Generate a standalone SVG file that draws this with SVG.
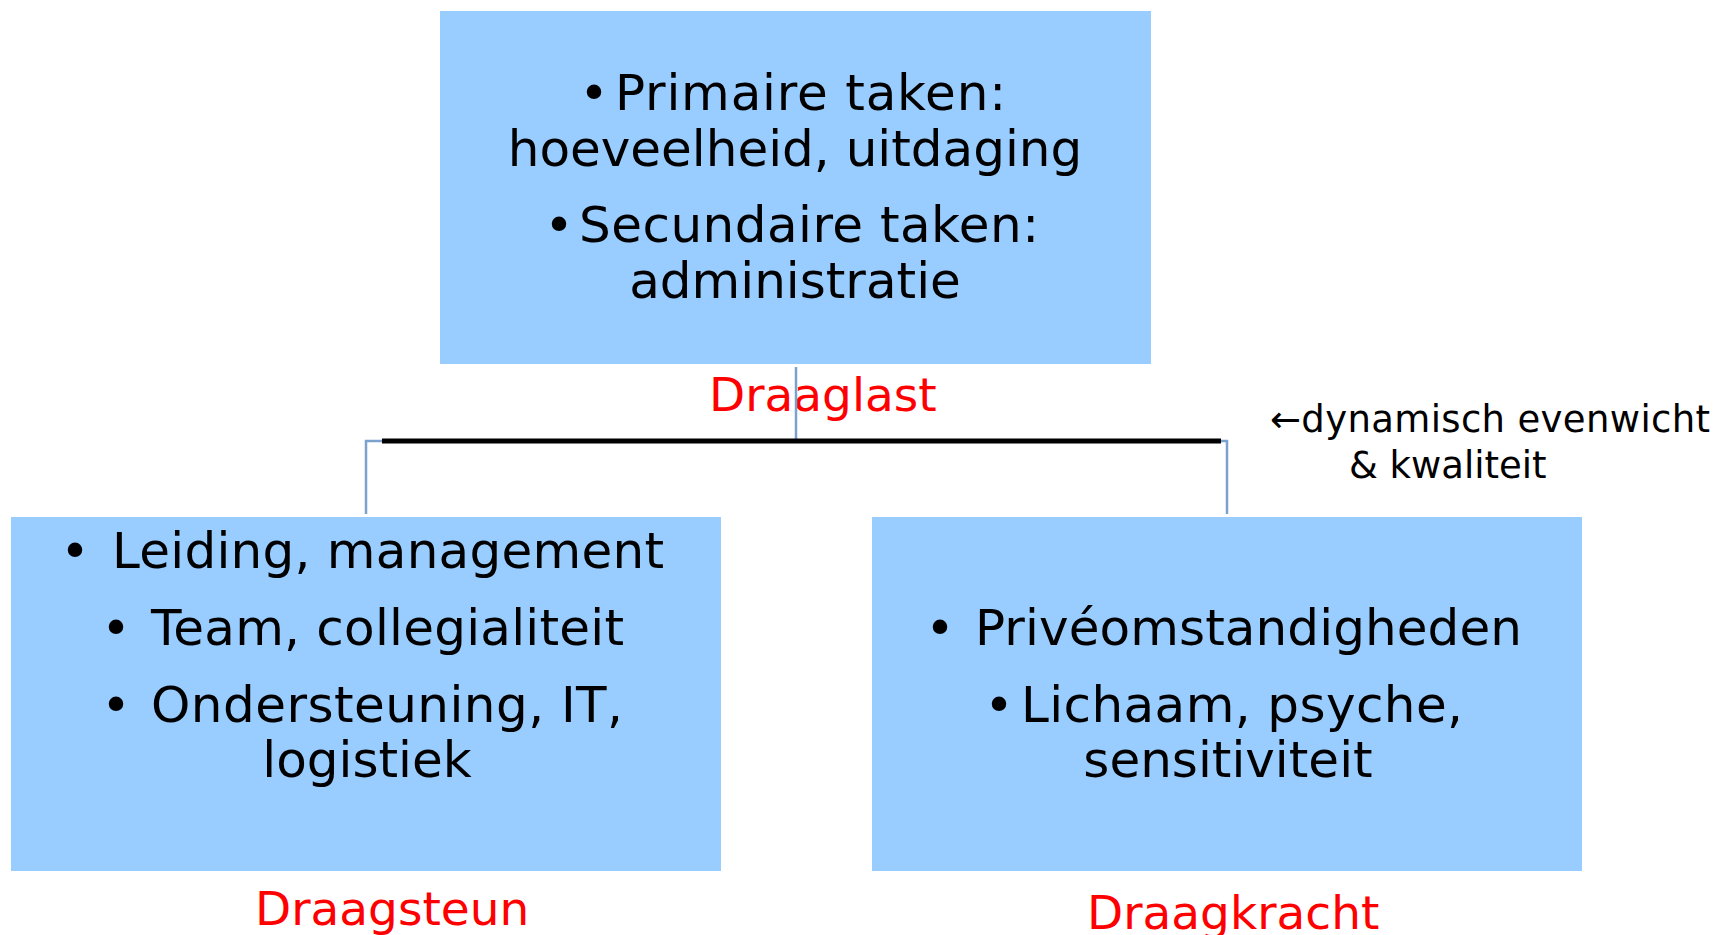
<svg xmlns="http://www.w3.org/2000/svg" width="1718" height="935" viewBox="0 0 1718 935">
<style>
.box{fill:#99CCFF;}
.t{font-family:"DejaVu Sans","Liberation Sans",sans-serif;font-size:50px;fill:#000;}
.m{text-anchor:middle;}
.lbl{font-family:"DejaVu Sans","Liberation Sans",sans-serif;font-size:47px;fill:#FF0000;}
.note{font-family:"DejaVu Sans","Liberation Sans",sans-serif;font-size:37px;fill:#000;}
.conn{fill:none;stroke:#7DA1CD;stroke-width:2.5;}
.bar{fill:none;stroke:#000;stroke-width:5;}
</style>
<rect width="1718" height="935" fill="#fff"/>
<g id="draaglast">
<rect class="box" x="440" y="11" width="711" height="353"/>
<text class="t m" x="594" y="110">•</text>
<text class="t" x="615" y="110" textLength="391" lengthAdjust="spacing">Primaire taken:</text>
<text class="t m" x="795" y="166">hoeveelheid, uitdaging</text>
<text class="t m" x="559" y="242">•</text>
<text class="t" x="579" y="242" textLength="460" lengthAdjust="spacing">Secundaire taken:</text>
<text class="t m" x="795" y="298">administratie</text>
<text class="lbl" x="709" y="411">Draaglast</text>
</g>
<g id="draagsteun">
<rect class="box" x="11" y="517" width="710" height="354"/>
<text class="t m" x="75" y="568">•</text>
<text class="t" x="112" y="568" textLength="552" lengthAdjust="spacing">Leiding, management</text>
<text class="t m" x="116" y="645">•</text>
<text class="t" x="151" y="645" textLength="473" lengthAdjust="spacing">Team, collegialiteit</text>
<text class="t m" x="116" y="722">•</text>
<text class="t" x="151" y="722" textLength="472" lengthAdjust="spacing">Ondersteuning, IT,</text>
<text class="t m" x="367" y="777">logistiek</text>
<text class="lbl" x="255" y="925">Draagsteun</text>
</g>
<g id="draagkracht">
<rect class="box" x="872" y="517" width="710" height="354"/>
<text class="t m" x="940" y="645">•</text>
<text class="t" x="975" y="645" textLength="547" lengthAdjust="spacing">Privéomstandigheden</text>
<text class="t m" x="999" y="722">•</text>
<text class="t" x="1021" y="722" textLength="442" lengthAdjust="spacing">Lichaam, psyche,</text>
<text class="t m" x="1228" y="777">sensitiviteit</text>
<text class="lbl" x="1087" y="929">Draagkracht</text>
</g>
<g id="evenwicht">
<text class="note" x="1270" y="432" textLength="440" lengthAdjust="spacing">←dynamisch evenwicht</text>
<text class="note" x="1349" y="478">&amp; kwaliteit</text>
</g>
<g id="connectors">
<line class="conn" x1="796" y1="367" x2="796" y2="441"/>
<polyline class="conn" points="382,441 366,441 366,514"/>
<polyline class="conn" points="1221,441 1227,441 1227,514"/>
<line class="bar" x1="382" y1="441" x2="1221" y2="441"/>
</g>
</svg>
